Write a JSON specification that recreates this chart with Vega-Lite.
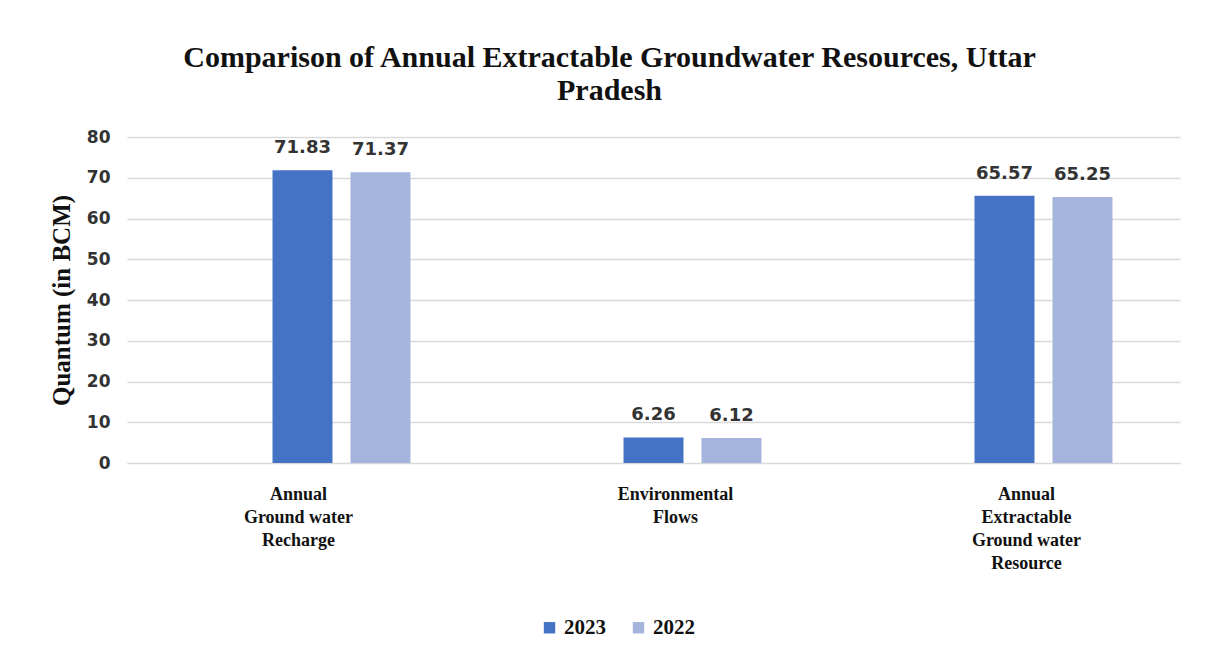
{
  "$schema": "https://vega.github.io/schema/vega-lite/v6.json",
  "width": 1053,
  "height": 326,
  "autosize": {"type": "none"},
  "padding": {"left": 127, "top": 137, "right": 25, "bottom": 194},
  "background": "white",
  "title": {
    "text": ["Comparison of Annual Extractable Groundwater Resources, Uttar", "Pradesh"],
    "font": "Liberation Serif",
    "fontSize": 30,
    "fontWeight": "bold",
    "lineHeight": 33,
    "color": "#111111",
    "anchor": "middle",
    "dx": -44,
    "offset": 22
  },
  "data": {
    "values": [
      {"category": "Annual Ground water Recharge", "year": "2023", "value": 71.83},
      {"category": "Annual Ground water Recharge", "year": "2022", "value": 71.37},
      {"category": "Environmental Flows", "year": "2023", "value": 6.26},
      {"category": "Environmental Flows", "year": "2022", "value": 6.12},
      {"category": "Annual Extractable Ground water Resource", "year": "2023", "value": 65.57},
      {"category": "Annual Extractable Ground water Resource", "year": "2022", "value": 65.25}
    ]
  },
  "encoding": {
    "x": {
      "field": "category",
      "type": "nominal",
      "sort": null,
      "scale": {"paddingInner": 0, "paddingOuter": 0},
      "axis": {
        "title": null,
        "labelAngle": 0,
        "ticks": false,
        "domain": true,
        "domainColor": "#D9D9D9",
        "labelFont": "Liberation Serif",
        "labelFontWeight": "bold",
        "labelFontSize": 18,
        "labelLineHeight": 23,
        "labelColor": "#111111",
        "labelPadding": 22,
        "labelBaseline": "top",
        "labelOffset": {"condition": {"test": "datum.value == 'Annual Ground water Recharge'", "value": -4}, "value": 22},
        "labelExpr": "datum.value == 'Annual Ground water Recharge' ? ['Annual', 'Ground water', 'Recharge'] : datum.value == 'Environmental Flows' ? ['Environmental', 'Flows'] : ['Annual', 'Extractable', 'Ground water', 'Resource']"
      }
    },
    "xOffset": {
      "field": "year",
      "type": "nominal",
      "scale": {"domain": ["blank", "2023", "2022"], "paddingInner": 0.2308, "paddingOuter": 0.866}
    },
    "y": {
      "field": "value",
      "type": "quantitative",
      "scale": {"domain": [0, 80], "nice": false},
      "axis": {
        "title": "Quantum (in BCM)",
        "titleFont": "Liberation Serif",
        "titleFontWeight": "bold",
        "titleFontSize": 25,
        "titleColor": "#111111",
        "titlePadding": 12,
        "values": [0, 10, 20, 30, 40, 50, 60, 70, 80],
        "domain": false,
        "ticks": false,
        "grid": true,
        "gridColor": "#D9D9D9",
        "gridWidth": 1.5,
        "labelFont": "DejaVu Sans",
        "labelFontWeight": "bold",
        "labelFontSize": 17,
        "labelColor": "#333333",
        "labelPadding": 17
      }
    }
  },
  "layer": [
    {
      "mark": {"type": "bar"},
      "encoding": {
        "color": {
          "field": "year",
          "type": "nominal",
          "scale": {"domain": ["2023", "2022"], "range": ["#4472C4", "#A5B4DC"]},
          "legend": {
            "title": null,
            "orient": "none",
            "direction": "horizontal",
            "legendX": 412,
            "legendY": 480,
            "symbolType": "square",
            "symbolSize": 130,
            "symbolStrokeWidth": 0,
            "labelFont": "Liberation Serif",
            "labelFontWeight": "bold",
            "labelFontSize": 21,
            "labelColor": "#111111",
            "labelOffset": 4,
            "columnPadding": 22
          }
        }
      }
    },
    {
      "mark": {
        "type": "text",
        "baseline": "alphabetic",
        "dy": -17,
        "font": "DejaVu Sans",
        "fontWeight": "bold",
        "fontSize": 18,
        "color": "#333333"
      },
      "encoding": {
        "text": {"field": "value", "type": "quantitative", "format": ".2f"}
      }
    }
  ],
  "config": {
    "view": {"stroke": null}
  }
}
